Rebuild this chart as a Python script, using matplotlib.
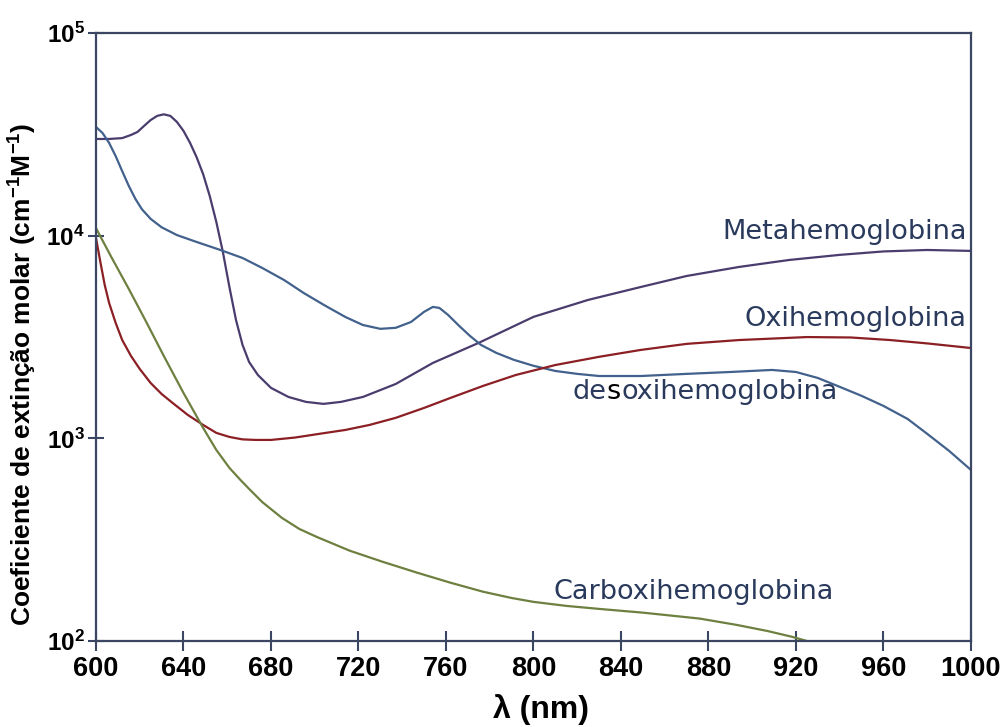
import matplotlib
matplotlib.use("Agg")
import matplotlib.pyplot as plt

plt.rcParams['mathtext.fontset'] = 'custom'
plt.rcParams['mathtext.rm'] = 'Liberation Sans:bold'
plt.rcParams['mathtext.bf'] = 'Liberation Sans:bold'
plt.rcParams['mathtext.it'] = 'Liberation Sans:bold'
plt.rcParams['mathtext.default'] = 'rm'

# molar extinction coefficients (cm-1 M-1) vs wavelength (nm)
met_nm = [600, 606, 612, 616, 619, 622, 625, 628, 631, 634, 637, 640, 643, 646,
          649, 652, 655, 658, 661, 664, 667, 670, 674, 680, 688, 696, 704, 712,
          722, 737, 754, 775, 800, 825, 849, 870, 894, 917, 940, 960, 980, 1000]
met = [30000, 30000, 30300, 31400, 32500, 34800, 37200, 39000, 39700, 39000,
       36400, 32900, 28700, 24400, 20100, 15700, 11700, 8320, 5580, 3840, 2890,
       2380, 2055, 1774, 1600, 1513, 1479, 1513, 1600, 1854, 2355, 2960, 3975,
       4820, 5580, 6325, 7010, 7590, 8040, 8360, 8500, 8410]

desoxi_nm = [600, 603, 606, 609, 612, 615, 618, 621, 625, 630, 637, 646, 657, 667,
             676, 686, 695, 705, 714, 722, 730, 737, 744, 750, 754, 757, 761, 766,
             771, 776, 783, 791, 800, 810, 820, 830, 849, 870, 890, 909, 920, 930,
             940, 950, 960, 971, 980, 990, 1000]
desoxi = [34400, 32100, 28700, 24700, 20800, 17600, 15200, 13500, 12100, 11000,
          10070, 9310, 8490, 7760, 6930, 6040, 5210, 4500, 3970, 3625, 3470, 3510,
          3750, 4210, 4450, 4400, 4060, 3590, 3200, 2890, 2640, 2440, 2280, 2150,
          2080, 2030, 2030, 2080, 2125, 2175, 2125, 1985, 1795, 1620, 1445, 1247,
          1052, 867, 698]

oxi_nm = [600, 602, 604, 606, 609, 612, 616, 620, 625, 630, 635, 642, 649, 655,
          661, 667, 673, 680, 691, 702, 714, 725, 737, 750, 762, 777, 792, 810,
          830, 849, 870, 894, 925, 945, 963, 980, 1000]
oxi = [9750, 7420, 5710, 4660, 3710, 3055, 2550, 2200, 1875, 1655, 1496, 1304,
       1164, 1064, 1016, 988, 982, 982, 1009, 1052, 1100, 1164, 1262, 1413, 1582,
       1815, 2055, 2300, 2525, 2730, 2925, 3055, 3160, 3145, 3055, 2940, 2790]

carboxi_nm = [600, 607, 615, 623, 631, 640, 649, 655, 661, 666, 670, 676, 685, 693,
              701, 716, 731, 747, 762, 777, 790, 800, 815, 830, 850, 876, 893, 907,
              918, 925]
carboxi = [10900, 7850, 5460, 3750, 2550, 1675, 1125, 877, 715, 624, 563, 485, 405,
           357, 326, 279, 246, 217, 194, 175, 163, 156, 149, 144, 138, 129, 120, 112,
           105, 100]

xticks = [600, 640, 680, 720, 760, 800, 840, 880, 920, 960, 1000]
yticks = [1e2, 1e3, 1e4, 1e5]
ylabels = [r'$10^2$', r'$10^3$', r'$10^4$', r'$10^5$']

axcol = '#3b4662'
txtcol = '#2a3a5c'

fig = plt.figure(figsize=(10.06, 7.27), dpi=100)
ax = fig.add_axes([0.0954, 0.1183, 0.8698, 0.8363])

ax.plot(met_nm, met, color='#4a3d6e', lw=1.6, solid_joinstyle='round')
ax.plot(desoxi_nm, desoxi, color='#42618c', lw=1.6, solid_joinstyle='round')
ax.plot(oxi_nm, oxi, color='#8b1f24', lw=1.6, solid_joinstyle='round')
ax.plot(carboxi_nm, carboxi, color='#6e8040', lw=1.6, solid_joinstyle='round')

ax.set_yscale('log')
ax.set_xlim(600, 1000)
ax.set_ylim(1e2, 1e5)
ax.set_xticks(xticks)
ax.set_xticklabels([str(t) for t in xticks], fontfamily='Liberation Sans',
                   fontweight='bold', fontsize=19.5)
ax.set_yticks(yticks)
ax.set_yticklabels(ylabels, fontsize=17.5)
ax.minorticks_off()
ax.tick_params(axis='x', direction='inout', length=14, width=1.5, color=axcol, pad=4)
ax.tick_params(axis='y', direction='inout', length=12, width=1.5, color=axcol, pad=2)

for s in ax.spines.values():
    s.set_color(axcol)
    s.set_linewidth(1.6)

ax.set_xlabel('λ (nm)', fontfamily='Liberation Sans', fontweight='bold',
              fontsize=23)
ax.xaxis.set_label_coords(0.509, -0.087)
ax.set_ylabel('Coeficiente de extinção molar (cm$^{-1}$M$^{-1}$)',
              fontfamily='Liberation Sans', fontweight='bold', fontsize=19)
ax.yaxis.set_label_coords(-0.065, 0.439)

lab = dict(fontfamily='DejaVu Sans', fontsize=19.5, color=txtcol)
ax.text(998, 10400, 'Metahemoglobina', ha='right', va='center', **lab)
ax.text(998, 3860, 'Oxihemoglobina', ha='right', va='center', **lab)
ax.text(809, 175, 'Carboxihemoglobina', ha='left', va='center', **lab)
t1 = ax.text(818, 1695, 'de', ha='left', va='center', **lab)
t2 = ax.annotate('s', xy=(1, 0), xycoords=t1, ha='left', va='bottom',
                 fontfamily='DejaVu Sans', fontsize=19.5, color='black')
ax.annotate('oxihemoglobina', xy=(1, 0), xycoords=t2, ha='left', va='bottom', **lab)

fig.savefig('out.png', dpi=100)
